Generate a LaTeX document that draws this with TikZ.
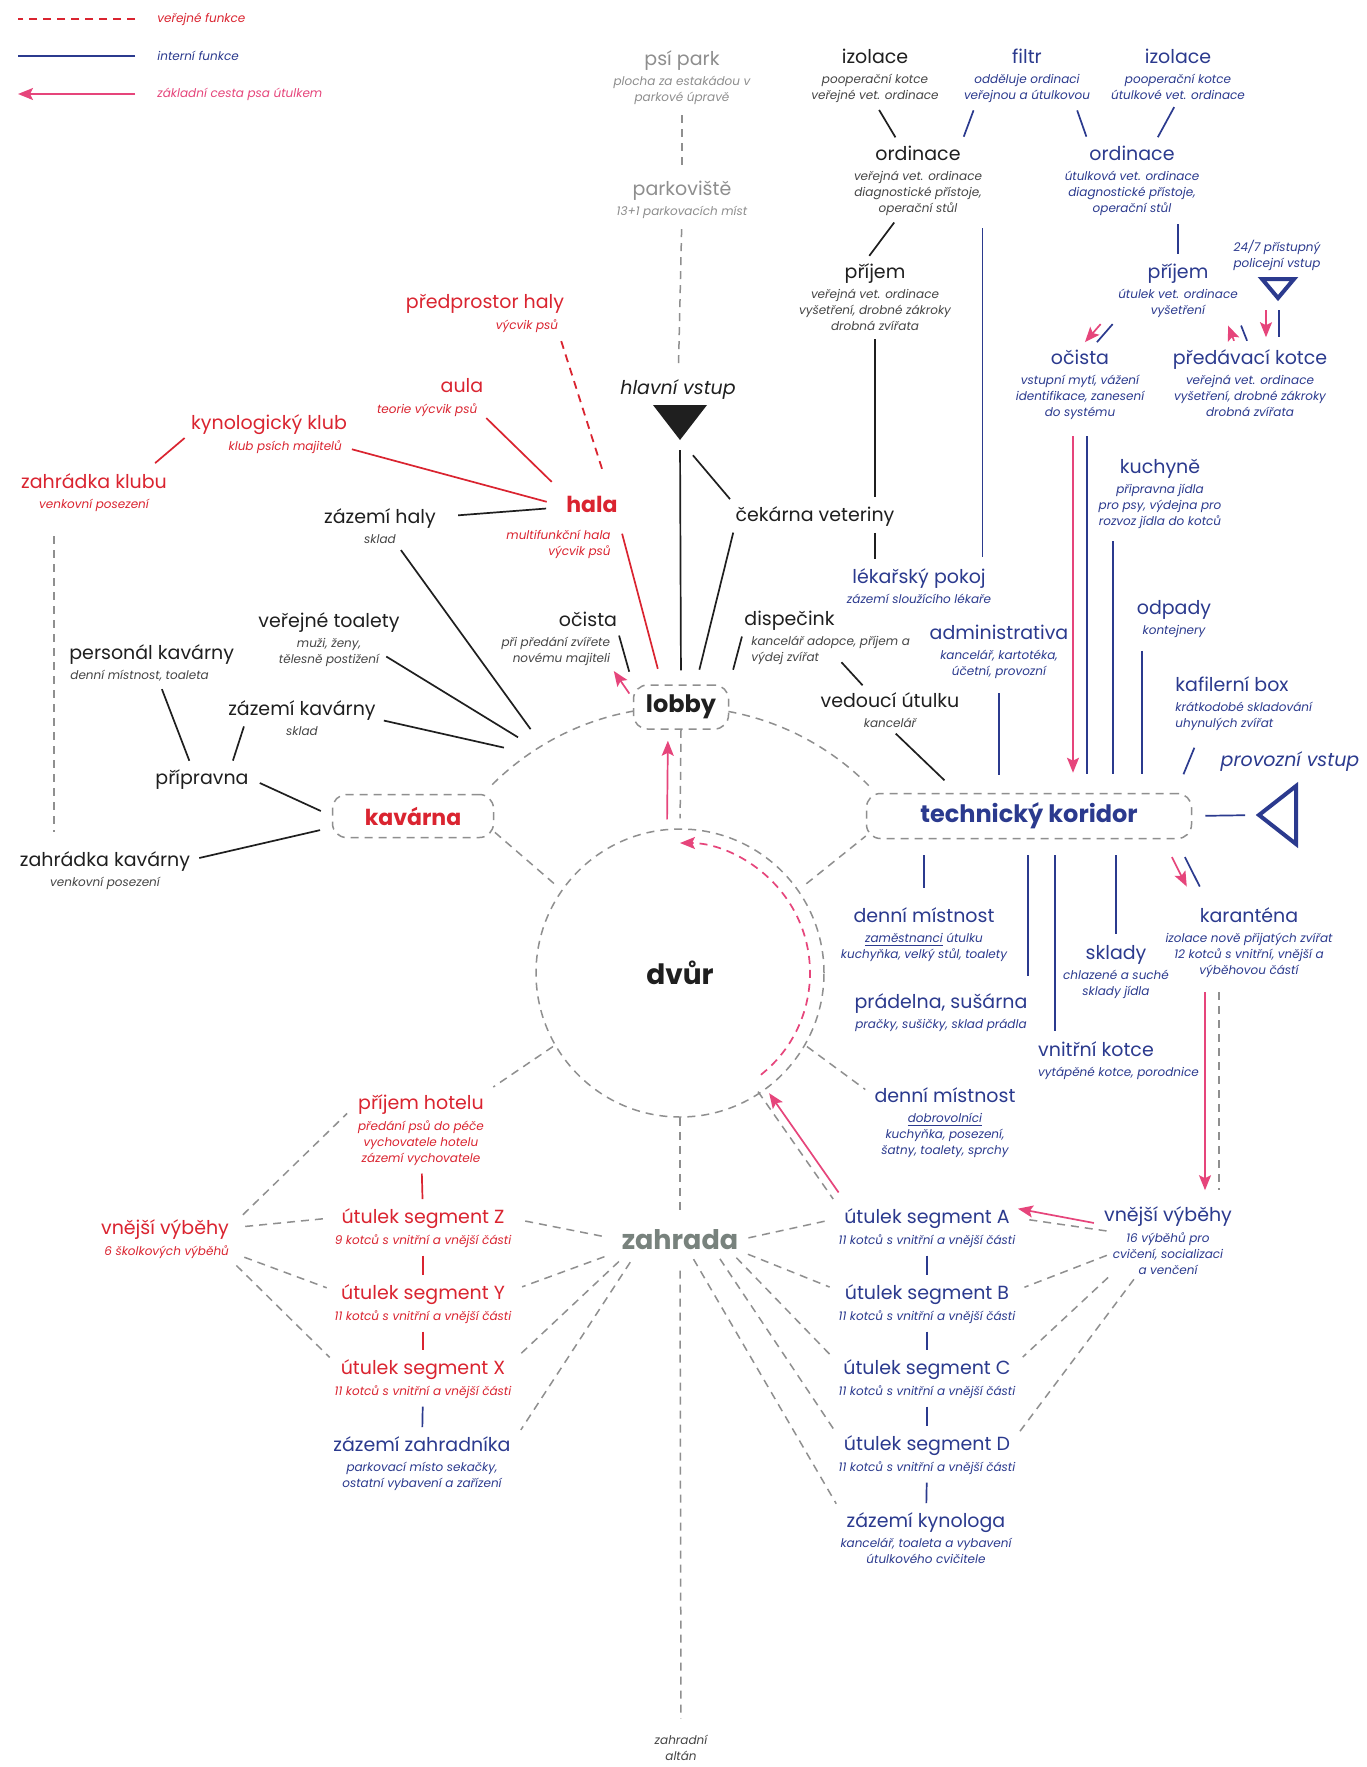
\documentclass[tikz,border=0pt]{standalone}
\usepackage{fontspec}
\setmainfont{Poppins}
\usepackage{tikz}
\usetikzlibrary{arrows.meta, positioning, calc}
\definecolor{InkBlack}{HTML}{1F1F1F}
\definecolor{InkGrey}{HTML}{454545}
\definecolor{ShelRed}{HTML}{DA2430}
\definecolor{ShelBlue}{HTML}{2B3A8E}
\definecolor{PathPink}{HTML}{E6457B}
\definecolor{DashGrey}{HTML}{8F8F8F}
\definecolor{FarGrey}{HTML}{8E8E8E}
\definecolor{GardenGrey}{HTML}{78827D}

\begin{document}
\begin{tikzpicture}[x=0.5pt, y=0.5pt, >=Stealth,
    ttl/.style={font=\fontsize{9.5}{11}\selectfont, inner sep=0pt, text height=8pt, text depth=1.4pt, text=InkBlack},
    sub/.style={font=\fontsize{6}{8}\selectfont\itshape, inner sep=0pt, align=center, text=InkGrey},
    ent/.style={ttl, font=\fontsize{9.5}{11}\selectfont\itshape},
    rd/.style={text=ShelRed}, bl/.style={text=ShelBlue}, gr/.style={text=FarGrey},
    hub/.style={draw=DashGrey, line width=0.75pt, dash pattern=on 4pt off 3pt, rounded corners=7pt, inner sep=0pt},
    ln/.style={line width=0.85pt, draw=InkBlack, shorten <=4pt, shorten >=4pt},
    lnb/.style={ln, draw=ShelBlue},
    lnr/.style={ln, draw=ShelRed},
    dsh/.style={line width=0.75pt, draw=DashGrey, dash pattern=on 4pt off 3pt, shorten <=5pt, shorten >=5pt},
    dshr/.style={dsh, draw=ShelRed, line width=0.9pt},
    pth/.style={ln, draw=PathPink, -{Stealth[length=7.5pt, width=6pt, inset=1.5pt]}},
  ]
  \fill[white] (0,0) rectangle (1366,-1767);
  \useasboundingbox (0,0) rectangle (1366,-1767);

  % legenda
  \node[sub, rd, anchor=west] (lgPub) at (157,-19) {veřejné funkce};
  \node[sub, bl, anchor=west] (lgInt) at (157,-56) {interní funkce};
  \node[sub, text=PathPink, anchor=west] (lgPth) at (157,-94) {základní cesta psa útulkem};
  \draw[dshr, shorten <=0pt, shorten >=0pt] (lgPub.west) ++(-22,0) -- ++(-117,0);
  \draw[lnb, shorten <=0pt, shorten >=0pt] (lgInt.west) ++(-22,0) -- ++(-117,0);
  \draw[pth, shorten <=0pt, shorten >=0pt] (lgPth.west) ++(-22,0) -- ++(-117,0);

  % stred: dvur, lobby, kavarna, koridor
  \node[circle, draw=DashGrey, line width=0.75pt, dash pattern=on 4pt off 3pt, minimum size=144pt, inner sep=0pt,
        font=\fontsize{14}{16}\selectfont\bfseries, text=InkBlack] (dvur) at (680,-973) {dvůr};
  \node[hub, minimum width=47.5pt, minimum height=22pt, font=\fontsize{12}{14}\selectfont\bfseries, text=InkBlack] (lob) at (681,-707) {lobby};
  \node[hub, minimum width=80.5pt, minimum height=21.5pt, font=\fontsize{11}{13}\selectfont\bfseries, text=ShelRed] (kav) at (413,-816) {kavárna};
  \node[hub, minimum width=162.5pt, minimum height=22.5pt, font=\fontsize{12}{14}\selectfont\bfseries, text=ShelBlue] (kor) at (1029,-816) {technický koridor};
  \node[font=\fontsize{13.5}{15}\selectfont\bfseries, text=GardenGrey, inner sep=0pt] (zah) at (680,-1240) {zahrada};
  \node[sub] (alt) at (681,-1748) {zahradní\\altán};

  % prstenec kolem dvora
  \draw[dsh, shorten <=0pt, shorten >=0pt] (dvur.center) ++(100:133pt) arc[start angle=100, end angle=135.5, radius=133pt];
  \draw[dsh, shorten <=0pt, shorten >=0pt] (dvur.center) ++(79.5:133pt) arc[start angle=79.5, end angle=44.8, radius=133pt];
  \draw[dsh, shorten >=0pt] (dvur.145) -- (kav.-11);
  \draw[dsh, shorten >=0pt] (dvur.35) -- (kor.187);
  \draw[dsh, shorten <=0pt] (lob.south) -- (dvur.north);
  \draw[dsh, shorten <=0pt, shorten >=10pt] (dvur.south) -- (zah.north);
  \draw[dsh, shorten <=10pt, shorten >=8pt] (zah.south) -- (alt.north);
  \coordinate (rgA) at ($(dvur.center)+(121.5:143pt)$);
  \coordinate (rgB) at ($(dvur.center)+(124.5:143pt)$);
  \coordinate (rgC) at ($(dvur.center)+(128:143pt)$);

  % horni osa
  \node[ttl, gr] (psi) at (682,-59) {psí park};
  \node[sub, gr, below=3.5pt of psi] (psiS) {plocha za estakádou v\\parkové úpravě};
  \node[ttl, gr] (park) at (682,-189) {parkoviště};
  \node[sub, gr, below=3.5pt of park] (parkS) {13+1 parkovacích míst};
  \node[ent] (hvx) at (678,-388) {hlavní vstup};
  \coordinate (hv) at (680,-405);
  \coordinate (hvTip) at (680,-440);
  \fill[InkBlack] (hv) ++(-27,0) -- ++(54,0) -- ++(-27,-35) -- cycle;
  \draw[dsh] (psiS) -- (park);
  \draw[dsh] (parkS) -- (hvx);

  % veterina
  \node[ttl] (izB) at (875,-57) {izolace};
  \node[sub, below=3.5pt of izB] (izBs) {pooperační kotce\\veřejné vet. ordinace};
  \node[ttl, bl] (fil) at (1027,-57) {filtr};
  \node[sub, bl, below=3.5pt of fil] (filS) {odděluje ordinaci\\veřejnou a útulkovou};
  \node[ttl, bl] (izU) at (1178,-57) {izolace};
  \node[sub, bl, below=3.5pt of izU] (izUs) {pooperační kotce\\útulkové vet. ordinace};
  \node[ttl] (ordB) at (918,-154) {ordinace};
  \node[sub, below=3.5pt of ordB] (ordBs) {veřejná vet. ordinace\\diagnostické přístoje,\\operační stůl};
  \node[ttl, bl] (ordU) at (1132,-154) {ordinace};
  \node[sub, bl, below=3.5pt of ordU] (ordUs) {útulková vet. ordinace\\diagnostické přístoje,\\operační stůl};
  \node[ttl] (priB) at (875,-272) {příjem};
  \node[sub, below=3.5pt of priB] (priBs) {veřejná vet. ordinace\\vyšetření, drobné zákroky\\drobná zvířata};
  \node[ttl, bl] (priU) at (1178,-272) {příjem};
  \node[sub, bl, below=3.5pt of priU] (priUs) {útulek vet. ordinace\\vyšetření};
  \node[sub, bl] (polTx) at (1277,-255) {24/7 přístupný\\policejní vstup};
  \coordinate (pol) at (1278,-279);
  \draw[ShelBlue, line width=2pt, line join=miter] (pol) ++(-16,0) -- ++(32,0) -- ++(-16,-19) -- cycle;
  \coordinate (polA) at (1266,-300);
  \coordinate (polB) at (1279,-300);
  \node[ttl, bl] (ocU) at (1080,-358) {očista};
  \node[sub, bl, below=3.5pt of ocU] (ocUs) {vstupní mytí, vážení\\identifikace, zanesení\\do systému};
  \node[ttl, bl] (prk) at (1250,-358) {předávací kotce};
  \node[sub, bl, below=3.5pt of prk] (prkS) {veřejná vet. ordinace\\vyšetření, drobné zákroky\\drobná zvířata};

  \draw[ln] (izBs.south) -- (ordB.152);
  \draw[lnb] (filS.196) -- (ordB.north east);
  \draw[lnb] (filS.-17.5) -- (ordU.north west);
  \draw[lnb] (izUs.south) -- (ordU.24);
  \draw[ln] (ordBs.-130) -- (priB.137);
  \draw[lnb] (priU.north |- ordUs.south) -- (priU.north);
  \draw[lnb] (priUs.south west) -- (ocU.40);
  \draw[pth, transform canvas={xshift=-6pt}] (priUs.south west) -- (ocU.40);
  \draw[lnb] (prk.north) -- (priUs.south east);
  \draw[pth, transform canvas={xshift=-6.5pt}] (prk.north) -- (priUs.south east);
  \draw[pth, shorten <=5pt, shorten >=5.5pt] (polA) -- (polA |- prk.north);
  \draw[lnb, shorten <=5pt, shorten >=5.5pt] (polB) -- (polB |- prk.north);

  % vstupni cast
  \node[ttl] (cek) at (815,-515) {čekárna veteriny};
  \node[ttl, bl] (lek) at (919,-577) {lékařský pokoj};
  \node[sub, bl, below=3.5pt of lek] (lekS) {zázemí sloužícího lékaře};
  \node[ttl, anchor=west] (disp) at (744,-619) {dispečink};
  \node[sub, align=left, below right=3.5pt and 3.5pt of disp.south west] (dispS) {kancelář adopce, příjem a\\výdej zvířat};
  \node[ttl] (ved) at (890,-701) {vedoucí útulku};
  \node[sub, below=3.5pt of ved] (vedS) {kancelář};
  \draw[lnb, shorten <=6pt, shorten >=5pt] (ordBs.south east) -- (ordBs.south east |- lek.north);
  \draw[ln] (priBs.south) -- (priBs.south |- cek.north);
  \draw[ln] (priBs.south |- cek.south) -- (priBs.south |- lek.north);
  \draw[ln, shorten <=5pt, shorten >=7pt] (hvTip) -- (lob.north);
  \draw[ln, shorten <=10pt] (hvTip) -- (cek.north west);
  \draw[ln, shorten >=7.5pt] (cek.south west) -- (lob.57);
  \draw[ln, shorten >=7.5pt] (disp.south west) -- (lob.north east);
  \draw[ln, shorten <=8pt] (dispS.center) -- (ved.156);
  \draw[ln, shorten >=9pt] (vedS.south) -- (kor.162);

  % technicke zazemi
  \node[ttl, bl] (adm) at (999,-633) {administrativa};
  \node[sub, bl, below=3.5pt of adm] (admS) {kancelář, kartotéka,\\účetní, provozní};
  \node[ttl, bl] (kuch) at (1160,-467) {kuchyně};
  \node[sub, bl, below=3.5pt of kuch] (kuchS) {připravna jídla\\pro psy, výdejna pro\\rozvoz jídla do kotců};
  \node[ttl, bl] (odp) at (1174,-608) {odpady};
  \node[sub, bl, below=3.5pt of odp] (odpS) {kontejnery};
  \node[ttl, bl, anchor=west] (kaf) at (1175,-685) {kafilerní box};
  \node[sub, bl, align=left, below right=3.5pt and 0pt of kaf.south west] (kafS) {krátkodobé skladování\\uhynulých zvířat};
  \node[ent, bl] (prov) at (1290,-760) {provozní vstup};
  \coordinate (pv) at (1259,-815);
  \draw[ShelBlue, line width=2pt, line join=miter] (pv) -- ++(37,29) -- ++(0,-58) -- cycle;
  \coordinate (kuX) at ($(kuchS.south west)+(15,0)$);

  \draw[lnb, shorten <=7pt, shorten >=9pt] (admS.south) -- (admS.south |- kor.north);
  \draw[lnb, shorten <=8pt, shorten >=9.5pt, transform canvas={xshift=3.5pt}] (ocUs.south) -- (ocUs.south |- kor.north);
  \draw[pth, shorten <=8pt, shorten >=10pt, transform canvas={xshift=-3.5pt}] (ocUs.south) -- (ocUs.south |- kor.north);
  \draw[lnb, shorten <=6pt, shorten >=9.5pt] (kuX) -- (kuX |- kor.north);
  \draw[lnb, shorten <=6.5pt, shorten >=9.5pt] (odpS.south west) -- (odpS.south west |- kor.north);
  \draw[lnb, shorten <=9pt, shorten >=10pt] (kafS.199) -- (kor.9.5);
  \draw[lnb, shorten <=6.5pt, shorten >=7pt] (kor.east) -- (pv);

  % pod koridorem
  \node[ttl, bl] (den1) at (924,-916) {denní místnost};
  \node[sub, bl, below=3.5pt of den1] (den1S) {\underline{zaměstnanci} útulku\\kuchyňka, velký stůl, toalety};
  \node[ttl, bl] (prad) at (941,-1002) {prádelna, sušárna};
  \node[sub, bl, below=3.5pt of prad] (pradS) {pračky, sušičky, sklad prádla};
  \node[ttl, bl] (skl) at (1116,-953) {sklady};
  \node[sub, bl, below=3.5pt of skl] (sklS) {chlazené a suché\\sklady jídla};
  \node[ttl, bl] (vnk) at (1096,-1050) {vnitřní kotce};
  \node[sub, bl, align=left, below right=3.5pt and 0pt of vnk.south west] (vnkS) {vytápěné kotce, porodnice};
  \node[ttl, bl] (kar) at (1249,-916) {karanténa};
  \node[sub, bl, below=3.5pt of kar] (karS) {izolace nově přijatých zvířat\\12 kotců s vnitřní, vnější a\\výběhovou částí};
  \node[ttl, bl] (den2) at (945,-1096) {denní místnost};
  \node[sub, bl, below=3.5pt of den2] (den2S) {\underline{dobrovolníci}\\kuchyňka, posezení,\\šatny, toalety, sprchy};
  \coordinate (vkX) at ($(vnk.north west)+(17,0)$);
  \coordinate (kv) at (1212,-1000);

  \draw[lnb, shorten <=8pt, shorten >=9pt] (kor.south -| den1.north) -- (den1.north);
  \draw[lnb, shorten <=8pt, shorten >=8pt] (kor.south -| prad.north east) -- (prad.north east);
  \draw[lnb, shorten <=8pt, shorten >=4.5pt] (kor.south -| vkX) -- (vkX);
  \draw[lnb, shorten <=8pt, shorten >=4.5pt] (kor.south -| skl.north) -- (skl.north);
  \draw[lnb, shorten <=10pt, shorten >=11pt] (kor.-9.5) -- (kar.166);
  \draw[pth, shorten <=10pt, shorten >=11pt, transform canvas={xshift=-6.5pt}] (kor.-9.5) -- (kar.166);
  \draw[dsh, shorten <=1pt, shorten >=5.5pt] (dvur.-30) -- (den2.west);

  % utulek - prava strana zahrady
  \node[ttl, bl] (segA) at (927,-1217) {útulek segment A};
  \node[sub, bl, below=3.5pt of segA] (segAs) {11 kotců s vnitřní a vnější části};
  \node[ttl, bl] (segB) at (927,-1293) {útulek segment B};
  \node[sub, bl, below=3.5pt of segB] (segBs) {11 kotců s vnitřní a vnější části};
  \node[ttl, bl] (segC) at (927,-1368) {útulek segment C};
  \node[sub, bl, below=3.5pt of segC] (segCs) {11 kotců s vnitřní a vnější části};
  \node[ttl, bl] (segD) at (927,-1444) {útulek segment D};
  \node[sub, bl, below=3.5pt of segD] (segDs) {11 kotců s vnitřní a vnější části};
  \node[ttl, bl] (kyno) at (926,-1521) {zázemí kynologa};
  \node[sub, bl, below=3.5pt of kyno] (kynoS) {kancelář, toaleta a vybavení\\útulkového cvičitele};
  \node[ttl, bl] (vybR) at (1168,-1215) {vnější výběhy};
  \node[sub, bl, below=3.5pt of vybR] (vybRs) {16 výběhů pro\\cvičení, socializaci\\a venčení};

  \draw[pth, shorten <=7pt, shorten >=7.5pt, transform canvas={xshift=-3.5pt}] (karS.south -| kv) -- (vybR.north -| kv);
  \draw[dsh, shorten <=7pt, shorten >=7.5pt, transform canvas={xshift=3.5pt}] (karS.south -| kv) -- (vybR.north -| kv);
  \draw[lnb] (segAs) -- (segB);
  \draw[lnb] (segBs) -- (segC);
  \draw[lnb] (segCs) -- (segD);
  \draw[lnb] (segDs) -- (kyno);
  \draw[pth, shorten <=5pt, shorten >=4pt] (vybR.south west) -- (segA.north east);
  \draw[dsh, shorten <=3pt, shorten >=8pt] (vybRs.north west) -- (segA.east);
  \draw[dsh, shorten <=3pt, shorten >=8pt] (vybRs.west) -- (segB.east);
  \draw[dsh, shorten <=3pt, shorten >=8pt] (vybRs.200) -- (segC.east);
  \draw[dsh, shorten <=3pt, shorten >=8pt] (vybRs.215) -- (segD.east);
  \draw[dsh, shorten >=8pt] (zah.east) -- (segA.west);
  \draw[dsh, shorten >=8pt] (zah.south east) -- (segB.west);
  \draw[dsh, shorten >=8pt] (zah.-12) -- (segC.west);
  \draw[dsh, shorten >=8pt] (zah.-17) -- (segD.west);
  \draw[dsh, shorten >=10pt] (zah.-51) -- (kyno.west);
  \draw[dsh, shorten <=0pt, transform canvas={xshift=-2.5pt}] (dvur.-55) -- (segA.north west);
  \draw[pth, shorten <=9pt, shorten >=1pt, transform canvas={xshift=2.5pt}] (segA.north west) -- (dvur.-55);
  \draw[pth, shorten <=0pt, shorten >=0pt, dash pattern=on 4pt off 3pt] (dvur.center) ++(-51.5:65pt) arc[start angle=-51.5, end angle=90, radius=65pt];
  \draw[pth, shorten <=4.5pt, shorten >=5.5pt, transform canvas={xshift=-6.5pt}] (dvur.north) -- (lob.south);

  % hala a kavarna
  \node[ttl, rd] (pred) at (485,-302) {předprostor haly};
  \node[sub, rd, below left=3.5pt and 3pt of pred.south east] (predS) {výcvik psů};
  \node[ttl, rd] (aula) at (462,-386) {aula};
  \node[sub, rd, below left=3.5pt and 3pt of aula.south east] (aulaS) {teorie výcvik psů};
  \node[ttl, rd] (kyn) at (269,-423) {kynologický klub};
  \node[sub, rd, below left=3.5pt and 2.5pt of kyn.south east] (kynS) {klub psích majitelů};
  \node[ttl, rd] (zklub) at (94,-482) {zahrádka klubu};
  \node[sub, rd, below=3.5pt of zklub] (zklubS) {venkovní posezení};
  \node[ttl, rd, font=\fontsize{11}{13}\selectfont\bfseries, text height=8pt, text depth=2.8pt] (hala) at (592,-507) {hala};
  \node[sub, rd, align=right, below left=6pt and 3.5pt of hala.south east] (halaS) {multifunkční hala\\výcvik psů};
  \node[ttl] (zhal) at (380,-517) {zázemí haly};
  \node[sub, below=3.5pt of zhal] (zhalS) {sklad};
  \node[ttl] (toal) at (329,-621) {veřejné toalety};
  \node[sub, below=3.5pt of toal] (toalS) {muži, ženy,\\tělesně postižení};
  \node[ttl] (ocB) at (588,-620) {očista};
  \node[sub, align=right, below left=3.5pt and 3.5pt of ocB.south east] (ocBs) {při předání zvířete\\novému majiteli};
  \node[ttl, anchor=west] (pers) at (69,-653) {personál kavárny};
  \node[sub, align=left, below right=3.5pt and 0.5pt of pers.south west] (persS) {denní místnost, toaleta};
  \node[ttl] (zkav) at (302,-709) {zázemí kavárny};
  \node[sub, below=3.5pt of zkav] (zkavS) {sklad};
  \node[ttl] (prip) at (202,-778) {přípravna};
  \node[ttl] (zkavz) at (105,-860) {zahrádka kavárny};
  \node[sub, below=3.5pt of zkavz] (zkavzS) {venkovní posezení};
  \coordinate (clubX) at (54,-532);

  \draw[dshr, shorten <=4.5pt, shorten >=11.5pt] (predS.south east) -- (hala.31);
  \draw[lnr, shorten <=6pt, shorten >=10pt] (aulaS.east) -- (hala.north west);
  \draw[lnr, shorten <=5pt, shorten >=10pt] (kynS.east) -- (hala.west);
  \draw[lnr, shorten <=7pt] (zklub.11.5) -- (kyn.south west);
  \draw[ln, shorten <=11pt, shorten >=10pt] (zhal.east) -- (hala.west);
  \draw[lnr, shorten <=8pt, shorten >=8pt] (hala.south east) -- (lob.130);
  \draw[ln, shorten >=0pt] (zhalS.south east) -- (rgA);
  \draw[ln, shorten >=0pt] (toalS.east) -- (rgB);
  \draw[ln, shorten >=0pt] (zkav.south east) -- (rgC);
  \draw[ln, shorten <=3pt, shorten >=6.5pt] (ocB.south east) -- (lob.north west);
  \draw[pth, shorten <=3pt, shorten >=3pt] (lob.170) -- (ocBs.south east);
  \draw[ln] (persS.-17) -- (prip.135);
  \draw[ln] (zkav.190) -- (prip.19);
  \draw[ln, shorten <=6pt, shorten >=6pt] (prip.east) -- (kav.west);
  \draw[ln, shorten <=4.5pt, shorten >=6pt] (zkavz.east) -- (kav.188);
  \draw[dsh, shorten <=12pt, shorten >=9pt] (clubX |- zklubS.south) -- (clubX |- zkavz.north);

  % leva strana zahrady
  \node[ttl, rd] (phot) at (421,-1103) {příjem hotelu};
  \node[sub, rd, below=3.5pt of phot] (photS) {předání psů do péče\\vychovatele hotelu\\zázemí vychovatele};
  \node[ttl, rd] (segZ) at (423,-1217) {útulek segment Z};
  \node[sub, rd, below=3.5pt of segZ] (segZs) {9 kotců s vnitřní a vnější části};
  \node[ttl, rd] (segY) at (423,-1293) {útulek segment Y};
  \node[sub, rd, below=3.5pt of segY] (segYs) {11 kotců s vnitřní a vnější části};
  \node[ttl, rd] (segX) at (423,-1368) {útulek segment X};
  \node[sub, rd, below=3.5pt of segX] (segXs) {11 kotců s vnitřní a vnější části};
  \node[ttl, bl] (zzah) at (422,-1445) {zázemí zahradníka};
  \node[sub, bl, below=3.5pt of zzah] (zzahS) {parkovací místo sekačky,\\ostatní vybavení a zařízení};
  \node[ttl, rd] (vybL) at (165,-1228) {vnější výběhy};
  \node[sub, rd, below left=3.5pt and 0pt of vybL.south east] (vybLs) {6 školkových výběhů};

  \draw[lnr] (photS) -- (segZ);
  \draw[lnr] (segZs) -- (segY);
  \draw[lnr] (segYs) -- (segX);
  \draw[lnb] (segXs) -- (zzah);
  \draw[dsh, shorten <=1pt, shorten >=5.5pt] (dvur.210) -- (phot.north east);
  \draw[dsh, shorten <=9.5pt, shorten >=7.5pt] (vybL.east) -- (phot.west);
  \draw[dsh, shorten <=8pt, shorten >=7.5pt] (vybL.east) -- (segZ.west);
  \draw[dsh, shorten <=8pt, shorten >=7.5pt] (vybLs.east) -- (segY.west);
  \draw[dsh, shorten <=5pt, shorten >=7.5pt] (vybLs.south east) -- (segX.west);
  \draw[dsh, shorten <=10pt, shorten >=9pt] (zah.west) -- (segZ.east);
  \draw[dsh, shorten <=9pt, shorten >=9pt] (zah.south west) -- (segY.east);
  \draw[dsh, shorten <=8pt, shorten >=9pt] (zah.192) -- (segX.east);
  \draw[dsh, shorten <=7pt, shorten >=9pt] (zah.194) -- (zzah.east);
\end{tikzpicture}
\end{document}
